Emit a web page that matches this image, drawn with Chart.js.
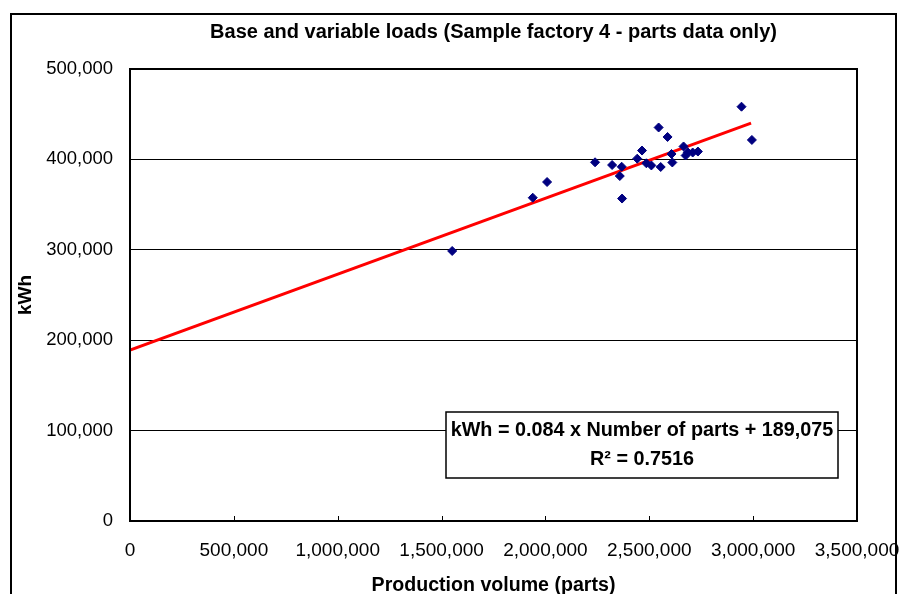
<!DOCTYPE html>
<html>
<head>
<meta charset="utf-8">
<script src="https://cdn.jsdelivr.net/npm/chart.js@4/dist/chart.umd.min.js"></script>
<style>
  body { margin: 0; background: #fff; }
  canvas { display: block; }
</style>
</head>
<body>
<canvas id="loads" width="900" height="594"></canvas>
<script>
// ============================= data

const parts = [1551000, 1939000, 2008000, 2239000, 2321000, 2367000, 2358000, 2369000,
    2442000, 2465000, 2486000, 2510000, 2545000, 2555000, 2588000, 2607000, 2611000,
    2665000, 2675000, 2685000, 2709000, 2734000, 2944000, 2994000]
const kwh = [298700, 357600, 375000, 396800, 393800, 391900, 381600, 356700,
    400800, 409800, 395700, 393300, 435300, 391600, 424800, 406000, 396600,
    414300, 404300, 407900, 407600, 408700, 458300, 421500]

const trendX = [0, 2990000]
const trendY = [189075, 440200]

const xTicks = [0, 500000, 1000000, 1500000, 2000000, 2500000, 3000000, 3500000]
const yTicks = [0, 100000, 200000, 300000, 400000, 500000]

const equation = 'kWh = 0.084 x Number of parts + 189,075'
const rSquared = 'R² = 0.7516'

const FONT = '"Liberation Sans", Arial, sans-serif'

// ============================= frame, plot border, inner x ticks and equation box

const frame = {
    id: 'frame',
    beforeDraw: (chart) => {
        const ctx = chart.ctx
        ctx.save()
        ctx.fillStyle = '#fff'
        ctx.fillRect(0, 0, chart.width, chart.height)
        ctx.restore()
    },
    afterDatasetsDraw: (chart) => {
        const { ctx, chartArea: a, scales: { x } } = chart
        ctx.save()

        // plot area border
        ctx.strokeStyle = '#000'
        ctx.lineWidth = 2
        ctx.strokeRect(a.left, a.top, a.right - a.left, a.bottom - a.top)

        // tick marks pointing up into the plot
        ctx.lineWidth = 1
        ctx.beginPath()
        xTicks.forEach(v => {
            const px = Math.round(x.getPixelForValue(v)) + 0.5
            ctx.moveTo(px, a.bottom)
            ctx.lineTo(px, a.bottom - 5)
        })
        ctx.stroke()

        // equation box
        const bx = a.left + 316, by = a.top + 343, bw = 392, bh = 66
        ctx.fillStyle = '#fff'
        ctx.fillRect(bx, by, bw, bh)
        ctx.strokeStyle = '#000'
        ctx.lineWidth = 1.5
        ctx.strokeRect(bx, by, bw, bh)
        ctx.fillStyle = '#000'
        ctx.font = 'bold 19.8px ' + FONT
        ctx.textAlign = 'center'
        ctx.textBaseline = 'middle'
        ctx.fillText(equation, bx + bw / 2, by + 19)
        ctx.fillText(rSquared, bx + bw / 2, by + 48)

        // outer chart frame
        ctx.lineWidth = 2
        ctx.strokeRect(11, 14, 885, 620)
        ctx.restore()
    }
}

// ============================= chart

new Chart(document.getElementById('loads'), {
    type: 'scatter',
    data: {
        datasets: [
            {
                data: parts.map((p, i) => ({ x: p, y: kwh[i] })),
                pointStyle: 'rectRot',
                pointRadius: 4.5,
                backgroundColor: '#000080',
                borderColor: '#000080',
                borderWidth: 1
            },
            {
                type: 'line',
                data: trendX.map((p, i) => ({ x: p, y: trendY[i] })),
                borderColor: '#ff0000',
                borderWidth: 3,
                pointRadius: 0,
                fill: false
            }
        ]
    },
    plugins: [frame],
    options: {
        responsive: false,
        animation: false,
        devicePixelRatio: 1,
        layout: { padding: { left: 10, right: 43, top: 0, bottom: 0 } },
        plugins: {
            legend: false,
            tooltip: { enabled: false },
            title: {
                display: true,
                fullSize: false,
                text: 'Base and variable loads (Sample factory 4 - parts data only)',
                color: '#000',
                font: { family: FONT, size: 20, weight: 'bold' },
                padding: { top: 20, bottom: 25 }
            }
        },
        scales: {
            x: {
                type: 'linear',
                min: 0,
                max: 3500000,
                afterBuildTicks: s => { s.ticks = xTicks.map(v => ({ value: v })) },
                afterFit: s => {
                    s.height = 73
                    s.paddingRight = 0 // last label may run into the frame, as in the original
                },
                grid: { drawOnChartArea: false, drawTicks: false },
                border: { color: '#000', width: 2 },
                ticks: {
                    color: '#000',
                    padding: 18,
                    maxRotation: 0,
                    font: { family: FONT, size: 19 },
                    callback: v => v.toLocaleString('en-US')
                },
                title: {
                    display: true,
                    text: 'Production volume (parts)',
                    color: '#000',
                    font: { family: FONT, size: 19.6, weight: 'bold' },
                    padding: { top: 0, bottom: -3 }
                }
            },
            y: {
                min: 0,
                max: 500000,
                afterBuildTicks: s => { s.ticks = yTicks.map(v => ({ value: v })) },
                afterFit: s => { s.width = 120 },
                grid: { color: '#000', lineWidth: 1, drawTicks: false },
                border: { color: '#000', width: 2 },
                ticks: {
                    color: '#000',
                    padding: 17,
                    font: { family: FONT, size: 18.5 },
                    callback: v => v.toLocaleString('en-US')
                },
                title: {
                    display: true,
                    text: 'kWh',
                    color: '#000',
                    font: { family: FONT, size: 19, weight: 'bold' },
                    padding: { top: 4.6, bottom: 0 }
                }
            }
        }
    }
})
</script>
</body>
</html>
